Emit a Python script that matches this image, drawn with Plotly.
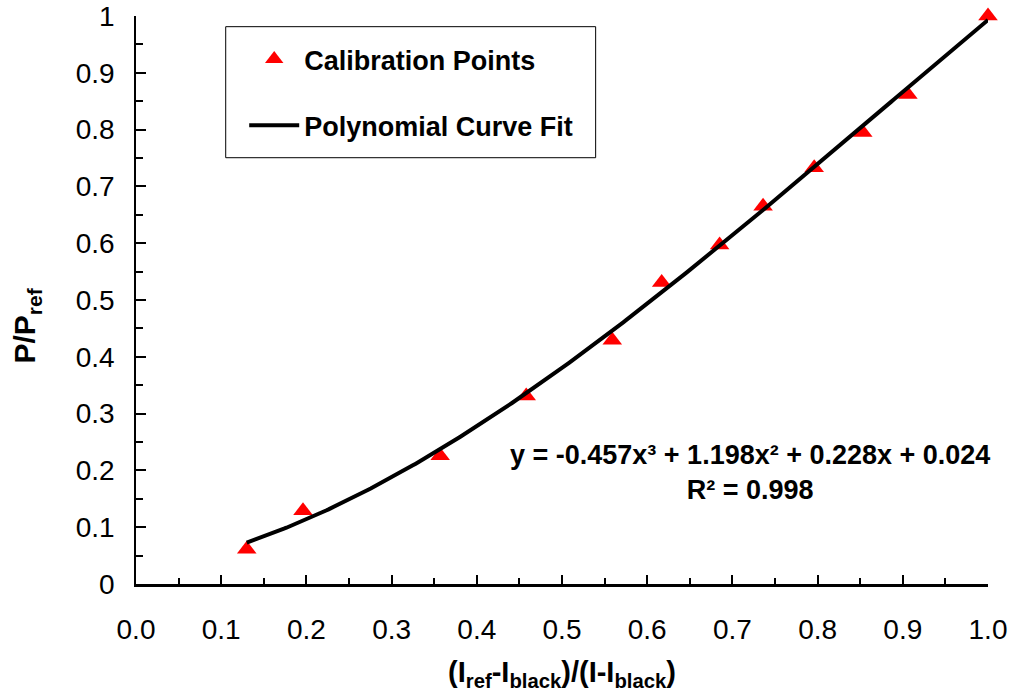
import numpy as np
import plotly.graph_objects as go

# Calibration measurements
intensity_ratio = [0.130, 0.196, 0.357, 0.458, 0.559, 0.617, 0.685, 0.736, 0.796, 0.853, 0.906, 1.000]
pressure_ratio = [0.061, 0.129, 0.226, 0.331, 0.429, 0.531, 0.597, 0.665, 0.733, 0.795, 0.862, 1.000]

# Cubic fit (highest power first) and its goodness of fit
fit_coeffs = [-0.457, 1.198, 0.228, 0.024]
fit_r2 = 0.998

# Axis ticks
x_tick_vals = [0.0, 0.1, 0.2, 0.3, 0.4, 0.5, 0.6, 0.7, 0.8, 0.9, 1.0]
x_tick_text = ["0.0", "0.1", "0.2", "0.3", "0.4", "0.5", "0.6", "0.7", "0.8", "0.9", "1.0"]
y_tick_vals = [0.0, 0.1, 0.2, 0.3, 0.4, 0.5, 0.6, 0.7, 0.8, 0.9, 1.0]
y_tick_text = ["0", "0.1", "0.2", "0.3", "0.4", "0.5", "0.6", "0.7", "0.8", "0.9", "1"]
minor_tick_vals = [0.05, 0.15, 0.25, 0.35, 0.45, 0.55, 0.65, 0.75, 0.85, 0.95]

FONT = "Liberation Sans, Arial, Helvetica, sans-serif"

# Fitted curve over the calibrated span
fit_x = np.linspace(min(intensity_ratio), max(intensity_ratio), 300)
fit_y = np.polyval(fit_coeffs, fit_x)

fig = go.Figure()

fig.add_trace(go.Scatter(
    x=intensity_ratio, y=pressure_ratio,
    mode="markers",
    name="Calibration Points",
    legendgroup="points",
    marker=dict(symbol="triangle-up", size=17, color="#ff0000", line=dict(width=0)),
    cliponaxis=False,
))

fig.add_trace(go.Scatter(
    x=fit_x, y=fit_y,
    mode="lines",
    name="Polynomial Curve Fit",
    legendgroup="fit",
    line=dict(color="black", width=4),
    cliponaxis=False,
))


def fmt_term(c, power):
    sup = {3: "\u00b3", 2: "\u00b2", 1: "", 0: ""}[power]
    var = "x" if power > 0 else ""
    return f"{abs(c):.3f}{var}{sup}"


eq = "y = " + ("-" if fit_coeffs[0] < 0 else "") + fmt_term(fit_coeffs[0], 3)
for c, p in zip(fit_coeffs[1:], [2, 1, 0]):
    eq += (" + " if c >= 0 else " - ") + fmt_term(c, p)
eq += f"<br>R\u00b2 = {fit_r2:.3f}"

fig.add_annotation(
    x=0.7206, y=0.197, xref="x", yref="y",
    text=eq, showarrow=False,
    xanchor="center", yanchor="middle", align="center",
    font=dict(family=FONT, size=27, color="black", weight="bold"),
)

# Vertical axis title
fig.add_annotation(
    x=-0.128, y=0.455, xref="paper", yref="paper",
    text="P/P<sub>ref</sub>", showarrow=False, textangle=-90,
    xanchor="center", yanchor="middle",
    font=dict(family=FONT, size=30, color="black", weight="bold"),
)

# Frame around the legend
fig.add_shape(
    type="rect", xref="paper", yref="paper",
    x0=0.1053, x1=0.5395, y0=0.7505, y1=0.9812,
    line=dict(color="black", width=1), fillcolor="rgba(0,0,0,0)",
)

axis_common = dict(
    range=[0, 1],
    automargin=False,
    showline=True, linecolor="black",
    showgrid=False, zeroline=False,
    ticks="inside", tickcolor="black", tickwidth=1.5,
    tickfont=dict(family=FONT, size=28, color="black"),
    tickmode="array",
)

fig.update_xaxes(
    **axis_common,
    linewidth=2.5, ticklen=9,
    tickvals=x_tick_vals, ticktext=x_tick_text,
    ticklabelstandoff=19,
    minor=dict(tickvals=minor_tick_vals, ticks="inside", ticklen=6, tickcolor="black", tickwidth=1.5),
    title=dict(
        text="(I<sub>ref</sub>-I<sub>black</sub>)/(I-I<sub>black</sub>)",
        font=dict(family=FONT, size=29, color="black", weight="bold"),
        standoff=18,
    ),
)

fig.update_yaxes(
    **axis_common,
    linewidth=1.5, ticklen=10,
    tickvals=y_tick_vals, ticktext=y_tick_text,
    ticklabelstandoff=14,
    minor=dict(tickvals=minor_tick_vals, ticks="inside", ticklen=7, tickcolor="black", tickwidth=1.5),
)

fig.update_layout(
    width=1016, height=699,
    margin=dict(l=136, r=28, t=16, b=115, pad=0),
    paper_bgcolor="white", plot_bgcolor="white",
    showlegend=True,
    legend=dict(
        x=0.127, y=0.9665, xanchor="left", yanchor="top",
        bgcolor="rgba(0,0,0,0)", borderwidth=0,
        itemwidth=50, traceorder="grouped", tracegroupgap=28,
        font=dict(family=FONT, size=27, color="black", weight="bold"),
    ),
)

fig.write_html("out.html")
